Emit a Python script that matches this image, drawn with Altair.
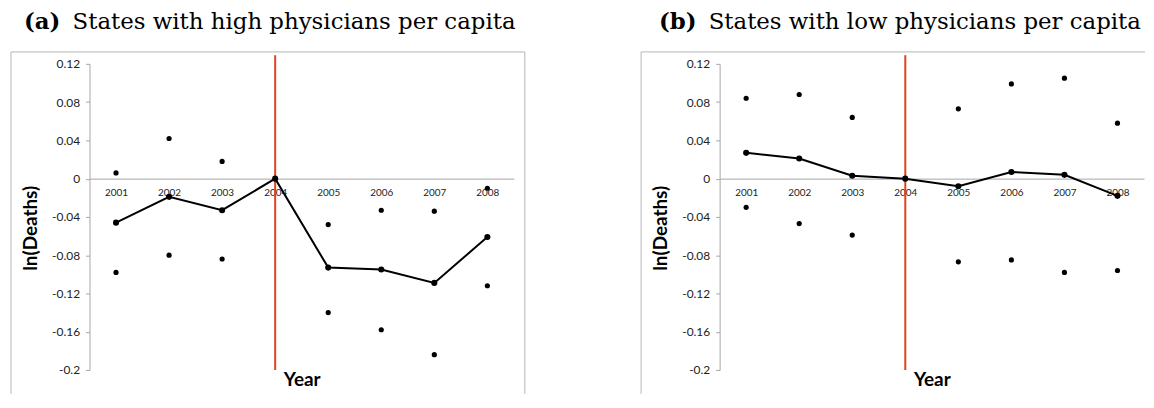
import altair as alt
import pandas as pd

years = ["2001", "2002", "2003", "2004", "2005", "2006", "2007", "2008"]

high_est = [-0.046, -0.019, -0.033, 0.0, -0.093, -0.095, -0.109, -0.061]
high_upper = [0.006, 0.042, 0.018, None, -0.048, -0.033, -0.034, -0.010]
high_lower = [-0.098, -0.080, -0.084, None, -0.140, -0.158, -0.184, -0.112]

low_est = [0.027, 0.021, 0.003, 0.0, -0.008, 0.007, 0.004, -0.018]
low_upper = [0.084, 0.088, 0.064, None, 0.073, 0.099, 0.105, 0.058]
low_lower = [-0.030, -0.047, -0.059, None, -0.087, -0.085, -0.098, -0.096]

y_ticks = [-0.2, -0.16, -0.12, -0.08, -0.04, 0, 0.04, 0.08, 0.12]
policy_year = "2004"

GRAY = "#a6a6a6"
W, H = 427, 308


def panel(est, up, lo, letter, text, lx, tx, right_side):
    df_est = pd.DataFrame({"year": years, "v": est})
    df_ci = pd.DataFrame({"year": years + years, "v": up + lo}).dropna()
    df_rule = pd.DataFrame({"year": [policy_year], "v": [0.129], "v2": [-0.2]})

    x = alt.X(
        "year:O",
        scale=alt.Scale(type="point", padding=0.5),
        sort=years,
        axis=alt.Axis(
            orient="bottom", offset=-192.5, domainColor=GRAY, domainWidth=1,
            ticks=False, labelAngle=0, labelFont="Lato", labelFontSize=10,
            labelColor="#222222", labelPadding=9, grid=False,
            title="Year", titleFont="Lato", titleFontSize=19,
            titleFontWeight="bold", titleColor="black", titleY=202,
            titleBaseline="middle",
        ),
    )
    y = alt.Y(
        "v:Q",
        scale=alt.Scale(domain=[-0.2, 0.12], nice=False, zero=False),
        axis=alt.Axis(
            values=y_ticks, labelExpr="'' + datum.value", domainColor=GRAY,
            tickColor=GRAY, tickSize=4, labelPadding=6, labelFont="Lato",
            labelFontSize=12, labelColor="#222222", grid=False,
            title="ln(Deaths)", titleFont="Lato", titleFontSize=19,
            titleFontWeight="bold", titleColor="black", titleX=-59,
            titleY=165, titleBaseline="middle", titleAlign="center",
        ),
    )

    rule = alt.Chart(df_rule).mark_rule(color="#e2401f", strokeWidth=2).encode(
        x=x, y=y, y2="v2:Q"
    )
    line = alt.Chart(df_est).mark_line(color="black", strokeWidth=2).encode(x=x, y=y)
    pts = alt.Chart(df_est).mark_circle(color="black", size=38, opacity=1).encode(x=x, y=y)
    ci = alt.Chart(df_ci).mark_circle(color="black", size=27, opacity=1).encode(x=x, y=y)

    one = pd.DataFrame({"a": [0]})
    frame_left = alt.Chart(one).mark_rule(color="#b5b5b5", strokeWidth=1).encode(
        x=alt.value(-79), x2=alt.value(-79), y=alt.value(-12), y2=alt.value(332)
    )
    top_end = 438 if right_side else 428
    frame_top = alt.Chart(one).mark_rule(color="#b5b5b5", strokeWidth=1).encode(
        x=alt.value(-79), x2=alt.value(top_end), y=alt.value(-12), y2=alt.value(-12)
    )
    # invisible spacer keeps a little headroom above the title glyphs
    spacer = alt.Chart(one).mark_rule(strokeOpacity=0, strokeWidth=1).encode(
        x=alt.value(-79), x2=alt.value(-78), y=alt.value(-55), y2=alt.value(-55)
    )
    layers = [frame_left, frame_top, spacer]
    if right_side:
        layers.append(
            alt.Chart(one).mark_rule(color="#b5b5b5", strokeWidth=1).encode(
                x=alt.value(438), x2=alt.value(438), y=alt.value(-12), y2=alt.value(332)
            )
        )
    t1 = alt.Chart(one).mark_text(
        font="DejaVu Serif", fontSize=23, fontWeight="bold", align="left",
        baseline="top", color="black",
    ).encode(x=alt.value(lx), y=alt.value(-53), text=alt.value(letter))
    t2 = alt.Chart(one).mark_text(
        font="DejaVu Serif", fontSize=23, align="left", baseline="top",
        color="black",
    ).encode(x=alt.value(tx), y=alt.value(-53), text=alt.value(text))
    layers += [t1, t2]

    return alt.layer(rule, line, pts, ci, *layers).properties(width=W, height=H)


left = panel(high_est, high_upper, high_lower, "(a)",
             "States with high physicians per capita", -66, -17, True)
right = panel(low_est, low_upper, low_lower, "(b)",
              "States with low physicians per capita", -61, -11, False)

chart = alt.hconcat(left, right, spacing=207, bounds="flush").properties(
    padding={"left": 2, "top": 0, "right": 0, "bottom": 0}
).configure_view(strokeWidth=0)

chart.save("out.html", embed_options={"renderer": "svg", "actions": False})
